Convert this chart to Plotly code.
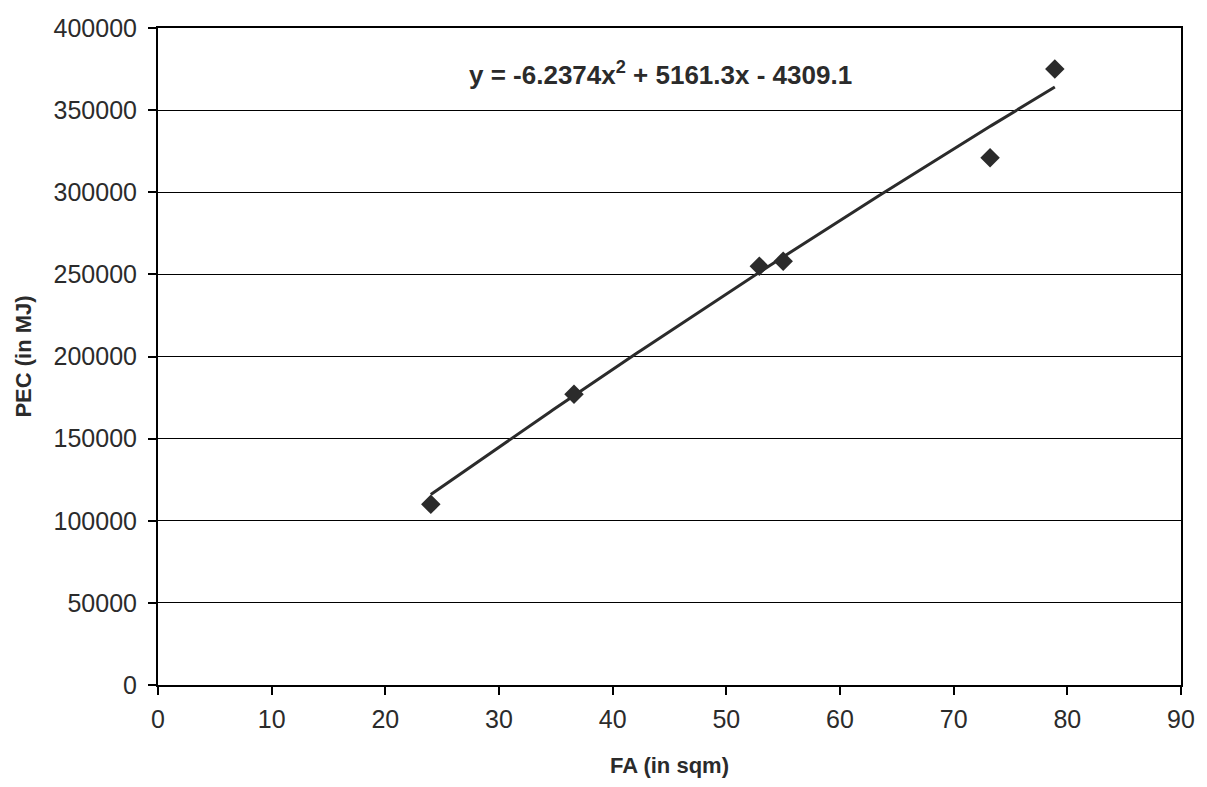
import numpy as np
import plotly.graph_objects as go

# Floor area vs. primary energy consumption
fa_sqm = [24.0, 36.6, 52.9, 55.0, 73.2, 78.9]
pec_mj = [110000, 177000, 255000, 258000, 321000, 375000]

# Polynomial (order 2) trendline coefficients: y = a*x^2 + b*x + c
trend_a, trend_b, trend_c = -6.2374, 5161.3, -4309.1

x_ticks = [0, 10, 20, 30, 40, 50, 60, 70, 80, 90]
y_ticks = [0, 50000, 100000, 150000, 200000, 250000, 300000, 350000, 400000]
y_tick_labels = [str(v) for v in y_ticks]

tx = np.linspace(min(fa_sqm), max(fa_sqm), 200)
ty = trend_a * tx**2 + trend_b * tx + trend_c

ink = "#2b2b2b"
font_family = "Liberation Sans, Arial, sans-serif"

fig = go.Figure()
fig.add_trace(go.Scatter(
    x=tx, y=ty, mode="lines",
    line=dict(color=ink, width=3),
    hoverinfo="skip", showlegend=False,
))
fig.add_trace(go.Scatter(
    x=fa_sqm, y=pec_mj, mode="markers",
    marker=dict(symbol="diamond", size=15, color=ink),
    showlegend=False,
))

fig.add_annotation(
    x=44.2, y=372000, xref="x", yref="y",
    text="<b>y = -6.2374x<sup>2</sup> + 5161.3x - 4309.1</b>",
    showarrow=False,
    font=dict(family=font_family, size=26, color=ink),
)

axis_common = dict(
    showline=True, linecolor="black", linewidth=2, mirror=True,
    ticks="outside", ticklen=8, tickwidth=1.5, tickcolor="black",
    tickfont=dict(family=font_family, size=25, color=ink),
    zeroline=False,
)

fig.update_xaxes(
    range=[0, 90], tickvals=x_ticks, showgrid=False,
    title=dict(text="<b>FA (in sqm)</b>",
               font=dict(family=font_family, size=22, color=ink),
               standoff=26),
    ticklabelstandoff=3,
    **axis_common,
)
fig.update_yaxes(
    range=[0, 400000], tickvals=y_ticks, ticktext=y_tick_labels,
    showgrid=True, gridcolor="black", gridwidth=1,
    title=dict(text="<b>PEC (in MJ)</b>",
               font=dict(family=font_family, size=22, color=ink),
               standoff=16),
    ticklabelstandoff=6,
    **axis_common,
)

fig.update_layout(
    width=1207, height=787,
    margin=dict(l=158, r=19, t=28, b=102),
    paper_bgcolor="white", plot_bgcolor="white",
)

fig.write_html("out.html")
